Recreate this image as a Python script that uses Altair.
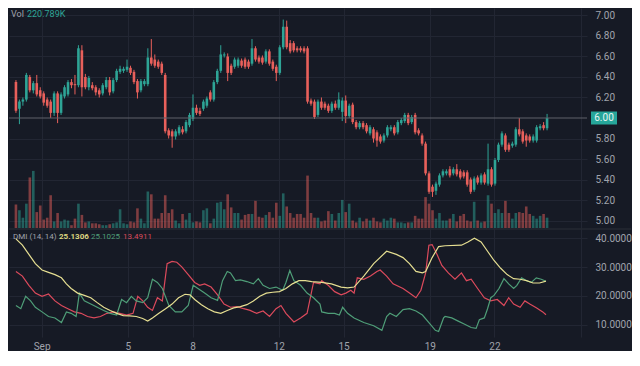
import altair as alt
import pandas as pd

# ---------------- data ----------------
OPEN = [6.35, 6.09, 6.16, 6.18, 6.40, 6.27, 6.34, 6.27, 6.24, 6.18,
        6.16, 6.05, 6.24, 6.05, 6.21, 6.23, 6.35, 6.33, 6.32, 6.66,
        6.40, 6.30, 6.32, 6.30, 6.27, 6.24, 6.30, 6.37, 6.26, 6.37,
        6.45, 6.46, 6.47, 6.49, 6.45, 6.36, 6.27, 6.33, 6.33, 6.59,
        6.57, 6.55, 6.53, 6.42, 5.88, 5.87, 5.82, 5.85, 5.89, 5.87,
        5.93, 5.99, 6.10, 6.07, 6.09, 6.12, 6.25, 6.18, 6.35, 6.46,
        6.61, 6.60, 6.51, 6.50, 6.51, 6.56, 6.57, 6.55, 6.53, 6.68,
        6.59, 6.59, 6.55, 6.65, 6.55, 6.50, 6.44, 6.69, 6.89, 6.73,
        6.73, 6.68, 6.68, 6.68, 6.68, 6.17, 6.16, 6.03, 6.16, 6.14,
        6.12, 6.07, 6.14, 6.10, 6.06, 6.17, 6.02, 6.13, 5.96, 5.91,
        5.95, 5.93, 5.85, 5.89, 5.86, 5.82, 5.78, 5.83, 5.89, 5.91,
        5.86, 5.95, 5.97, 6.03, 5.96, 6.03, 5.88, 5.83, 5.75, 5.46,
        5.33, 5.29, 5.35, 5.44, 5.46, 5.50, 5.46, 5.50, 5.48, 5.47,
        5.47, 5.40, 5.30, 5.42, 5.37, 5.45, 5.36, 5.50, 5.36, 5.59,
        5.74, 5.83, 5.74, 5.73, 5.74, 5.89, 5.87, 5.83, 5.82, 5.78,
        5.78, 5.90, 5.93, 5.90]
HIGH = [6.37, 6.18, 6.20, 6.44, 6.42, 6.36, 6.42, 6.30, 6.26, 6.20,
        6.18, 6.26, 6.26, 6.25, 6.32, 6.37, 6.38, 6.42, 6.71, 6.71,
        6.43, 6.41, 6.35, 6.32, 6.29, 6.34, 6.40, 6.40, 6.39, 6.48,
        6.51, 6.50, 6.57, 6.51, 6.47, 6.38, 6.38, 6.38, 6.68, 6.77,
        6.62, 6.57, 6.55, 6.44, 5.90, 5.89, 5.89, 5.93, 5.92, 5.98,
        6.05, 6.23, 6.13, 6.10, 6.18, 6.21, 6.27, 6.37, 6.48, 6.71,
        6.64, 6.63, 6.53, 6.59, 6.59, 6.58, 6.59, 6.57, 6.77, 6.70,
        6.61, 6.61, 6.67, 6.67, 6.57, 6.52, 6.71, 6.96, 6.95, 6.76,
        6.75, 6.70, 6.70, 6.70, 6.70, 6.19, 6.18, 6.18, 6.20, 6.16,
        6.14, 6.16, 6.17, 6.25, 6.20, 6.22, 6.14, 6.15, 5.98, 5.97,
        5.97, 5.95, 5.93, 5.91, 5.88, 5.84, 5.85, 5.93, 5.93, 5.93,
        5.98, 6.00, 6.05, 6.05, 6.03, 6.05, 5.90, 5.85, 5.77, 5.48,
        5.35, 5.38, 5.46, 5.50, 5.50, 5.53, 5.52, 5.55, 5.50, 5.49,
        5.49, 5.42, 5.43, 5.44, 5.46, 5.47, 5.75, 5.52, 5.61, 5.76,
        5.87, 5.85, 5.76, 5.77, 5.91, 6.00, 5.89, 5.85, 5.84, 5.84,
        5.93, 5.94, 5.96, 6.04]
LOW = [6.05, 5.94, 6.12, 6.16, 6.25, 6.24, 6.21, 6.19, 6.12, 6.10,
       6.00, 6.02, 5.95, 6.03, 6.19, 6.21, 6.29, 6.23, 6.30, 6.21,
       6.28, 6.27, 6.27, 6.22, 6.20, 6.22, 6.28, 6.22, 6.24, 6.35,
       6.43, 6.44, 6.45, 6.42, 6.33, 6.19, 6.25, 6.31, 6.31, 6.51,
       6.49, 6.48, 6.42, 5.85, 5.80, 5.71, 5.79, 5.83, 5.84, 5.85,
       5.91, 5.97, 6.03, 6.02, 6.07, 6.10, 6.16, 6.16, 6.33, 6.44,
       6.59, 6.36, 6.42, 6.48, 6.49, 6.49, 6.48, 6.48, 6.51, 6.55,
       6.53, 6.52, 6.53, 6.51, 6.46, 6.36, 6.42, 6.67, 6.67, 6.63,
       6.64, 6.64, 6.64, 6.63, 6.14, 6.12, 5.99, 6.01, 6.08, 6.08,
       6.05, 6.05, 6.08, 6.08, 5.97, 5.95, 6.00, 5.94, 5.89, 5.89,
       5.89, 5.85, 5.83, 5.76, 5.72, 5.75, 5.76, 5.81, 5.87, 5.83,
       5.84, 5.93, 5.95, 5.93, 5.94, 5.84, 5.83, 5.73, 5.44, 5.26,
       5.23, 5.25, 5.33, 5.42, 5.44, 5.42, 5.44, 5.43, 5.40, 5.41,
       5.33, 5.26, 5.28, 5.35, 5.35, 5.35, 5.34, 5.33, 5.34, 5.57,
       5.72, 5.67, 5.67, 5.71, 5.72, 5.82, 5.75, 5.72, 5.76, 5.76,
       5.76, 5.88, 5.88, 5.88]
CLOSE = [6.07, 6.16, 6.18, 6.42, 6.27, 6.34, 6.23, 6.21, 6.15, 6.12,
         6.05, 6.24, 6.05, 6.23, 6.30, 6.35, 6.32, 6.32, 6.68, 6.30,
         6.30, 6.39, 6.29, 6.25, 6.23, 6.32, 6.37, 6.25, 6.37, 6.46,
         6.48, 6.48, 6.50, 6.44, 6.35, 6.25, 6.36, 6.36, 6.59, 6.53,
         6.51, 6.50, 6.44, 5.87, 5.83, 5.82, 5.87, 5.91, 5.86, 5.96,
         6.03, 6.10, 6.05, 6.04, 6.16, 6.19, 6.18, 6.35, 6.46, 6.62,
         6.62, 6.44, 6.44, 6.57, 6.57, 6.51, 6.50, 6.50, 6.68, 6.57,
         6.55, 6.54, 6.65, 6.53, 6.48, 6.44, 6.69, 6.89, 6.69, 6.65,
         6.66, 6.66, 6.66, 6.65, 6.16, 6.14, 6.01, 6.16, 6.10, 6.10,
         6.07, 6.14, 6.10, 6.18, 6.17, 6.02, 6.12, 5.96, 5.91, 5.95,
         5.91, 5.87, 5.91, 5.80, 5.78, 5.77, 5.83, 5.91, 5.91, 5.85,
         5.96, 5.98, 6.03, 5.95, 6.01, 5.86, 5.85, 5.75, 5.46, 5.28,
         5.28, 5.36, 5.44, 5.48, 5.48, 5.44, 5.50, 5.45, 5.42, 5.43,
         5.35, 5.28, 5.41, 5.37, 5.44, 5.37, 5.50, 5.35, 5.59, 5.74,
         5.85, 5.69, 5.69, 5.75, 5.89, 5.84, 5.77, 5.78, 5.78, 5.82,
         5.91, 5.92, 5.90, 6.00]
VOLUME_K = [500, 380, 220, 520, 1080, 1220, 340, 480, 180, 220,
            700, 140, 320, 140, 180, 160, 60, 200, 520, 280,
            120, 140, 100, 100, 80, 60, 60, 80, 100, 120,
            400, 100, 80, 140, 120, 420, 200, 100, 780, 720,
            200, 200, 320, 700, 320, 400, 160, 100, 300, 180,
            320, 120, 140, 120, 380, 420, 100, 200, 540, 560,
            400, 720, 440, 320, 320, 180, 280, 300, 300, 580,
            240, 220, 280, 340, 220, 540, 260, 740, 460, 320,
            220, 300, 300, 220, 1120, 320,
            220, 220, 140, 160, 360, 300, 160, 320, 600, 340,
            520, 160, 120, 220, 140, 200, 160, 220, 140, 120,
            200, 160, 220, 200, 120, 120, 100, 120, 120, 260,
            200, 200, 660, 520, 380, 200, 320, 160, 160, 200,
            300, 140, 260, 300, 160, 140, 560, 160, 120,
            140, 700, 520, 320, 400, 320, 580, 320, 200, 320,
            340, 320, 460, 300, 260, 200, 260, 300, 220.789]

# time of first / last candle, in days (1 = Sep 1)
FIRST_T = -0.19
LAST_T = 24.44

ADX_T = [-0.19, 0.11, 0.41, 0.71, 1.02, 1.32, 1.62, 1.92, 2.15, 2.37,
         2.67, 2.98, 3.28, 3.58, 3.88, 4.18, 4.48, 4.79, 5.09, 5.39,
         5.69, 5.92, 6.14, 6.44, 6.75, 7.05, 7.35, 7.65, 7.88, 8.10,
         8.41, 8.71, 9.01, 9.31, 9.61, 9.91, 10.22, 10.52, 10.82, 11.12,
         11.42, 11.72, 12.03, 12.33, 12.63, 12.93, 13.23, 13.53,
         13.99, 14.44, 14.89, 15.19, 15.49, 15.94, 16.40, 17.00, 17.45, 17.76,
         18.06, 18.36, 18.66, 18.81, 19.11, 19.41, 19.71, 20.47, 20.77, 21.07,
         21.38, 21.68, 21.98, 22.29, 22.59, 22.89, 23.19, 23.49, 23.79, 24.09,
         24.39]
ADX_V = [39.8, 37.6, 34.4, 31.2, 29.0, 28.2, 27.4, 26.3, 24.2, 22.6,
         21.0, 20.2, 19.4, 17.7, 16.1, 15.0, 14.0, 13.2, 13.1, 12.9,
         12.2, 11.3, 12.4, 14.0, 15.6, 17.2, 19.4, 20.6, 20.4, 18.8,
         17.0, 15.6, 14.5, 14.0, 15.0, 15.9, 16.3, 17.0, 18.3, 19.9,
         21.0, 21.3, 21.5, 22.6, 24.2, 25.3, 25.3, 25.0,
         24.7, 24.2, 23.1, 22.8, 23.1, 26.9, 31.2, 35.5, 34.4, 33.3,
         31.2, 28.5, 28.0, 28.5, 33.3, 37.1, 37.4, 37.6, 38.7, 40.0,
         38.7, 35.5, 32.3, 29.6, 27.4, 26.0, 25.8, 25.3, 24.5, 24.5,
         25.1306]

PDI_T = [-0.19, 0.035, 0.26, 0.49, 0.71, 1.02, 1.32, 1.62, 1.92, 2.15,
         2.37, 2.60, 2.75, 2.98, 3.28, 3.58, 3.88, 4.18, 4.48, 4.71,
         4.94, 5.16, 5.39, 5.69, 5.92, 6.14, 6.37, 6.60, 6.90, 7.20,
         7.50, 7.80, 8.03, 8.25, 8.56, 8.86, 9.16, 9.39, 9.61, 9.76,
         9.99, 10.22, 10.52, 10.82, 11.05, 11.27, 11.57, 11.87, 12.18, 12.33,
         12.51, 12.70, 13.01, 13.31, 13.61, 13.91,
         13.99, 14.29, 14.59, 14.81, 14.96, 15.19, 15.49, 15.94, 16.40, 16.78,
         17.00, 17.15, 17.45, 17.76, 18.06, 18.36, 18.66, 18.96, 19.26, 19.41,
         19.64, 19.71, 20.02, 20.32, 20.62, 20.92, 21.15, 21.30, 21.53, 21.68,
         21.83, 21.98, 22.21, 22.44, 22.66, 22.89, 23.04, 23.26, 23.49, 23.71,
         23.94, 24.17, 24.39]
PDI_V = [16.7, 15.6, 19.9, 18.3, 16.1, 14.5, 12.9, 12.4, 10.8, 14.5,
         14.0, 12.9, 21.0, 18.3, 17.2, 16.1, 15.0, 14.0, 13.4, 18.8,
         17.7, 19.9, 18.3, 17.7, 19.4, 25.8, 24.7, 22.6, 16.7, 14.5,
         14.5, 16.7, 23.7, 22.6, 21.0, 19.4, 18.5, 25.3, 28.5, 28.0,
         25.3, 25.6, 25.0, 24.2, 26.0, 23.7, 22.6, 23.1, 22.0, 24.7,
         28.8, 25.3, 23.7, 21.0, 19.4, 17.2,
         14.5, 14.0, 14.0, 13.4, 16.1, 14.0, 12.4, 10.8, 9.7, 8.1,
         12.9, 14.0, 12.9, 15.3, 15.6, 14.8, 13.4, 10.8, 8.1, 7.7,
         12.4, 12.9, 12.4, 11.3, 10.2, 9.1, 8.8, 11.8, 12.4, 15.6,
         19.4, 20.2, 22.6, 26.0, 24.2, 22.6, 23.7, 26.3, 25.3, 24.7,
         26.3, 25.8, 25.1025]

MDI_T = [-0.19, 0.11, 0.41, 0.71, 1.02, 1.32, 1.62, 1.92, 2.22, 2.52,
         2.83, 3.13, 3.43, 3.73, 4.03, 4.33, 4.63, 4.94, 5.24, 5.46,
         5.69, 5.92, 6.14, 6.37, 6.60, 6.82, 7.05, 7.27, 7.50, 7.80,
         8.10, 8.33, 8.56, 8.86, 9.16, 9.46, 9.76, 10.06, 10.37, 10.67,
         10.97, 11.27, 11.57, 11.87, 12.10, 12.33, 12.70, 13.01, 13.31, 13.61,
         13.91,
         13.99, 14.29, 14.59, 14.89, 15.11, 15.34, 15.49, 15.64, 15.94, 16.25,
         16.55, 16.70, 17.00, 17.30, 17.76, 18.06, 18.36, 18.59, 18.81, 18.96,
         19.11, 19.34, 19.56, 19.86, 20.17, 20.47, 20.70, 20.92, 21.22, 21.53,
         21.83, 22.13, 22.44, 22.66, 22.89, 23.19, 23.41, 23.64, 23.94, 24.24,
         24.39]
MDI_V = [28.5, 26.9, 23.7, 21.0, 19.9, 20.7, 18.3, 16.7, 15.6, 14.5,
         14.0, 12.9, 12.4, 12.9, 14.0, 14.5, 14.0, 13.4, 14.0, 19.9,
         18.3, 16.1, 15.0, 19.4, 18.3, 31.2, 32.0, 31.7, 30.1, 27.4,
         24.7, 23.7, 24.2, 23.1, 20.4, 17.2, 16.1, 16.3, 15.6, 15.0,
         14.0, 14.8, 12.9, 15.6, 16.7, 14.0, 11.0, 12.4, 14.0, 24.7,
         24.2,
         25.3, 23.7, 21.5, 20.4, 21.0, 22.0, 21.0, 26.3, 25.8, 26.9,
         28.5, 29.0, 26.9, 24.2, 22.6, 21.0, 19.4, 22.0, 28.0, 37.6,
         37.8, 34.4, 30.6, 28.0, 25.8, 28.0, 25.3, 25.8, 22.6, 19.4,
         18.3, 18.8, 16.7, 19.4, 17.2, 16.1, 18.3, 17.2, 15.9, 14.5,
         13.4911]

X_TICKS = [1, 5, 8, 12, 15, 19, 22, 26]
PRICE_TICKS = [5.0, 5.2, 5.4, 5.6, 5.8, 6.2, 6.4, 6.6, 6.8, 7.0]
DMI_TICKS = [10, 20, 30, 40]
LAST_PRICE = 6.00

# ---------------- styling ----------------
BG = "#161a25"
GRID = "#222633"
LABEL = "#a0a3ac"
UP = "#2ea496"
DOWN = "#e8605b"
ADX_C = "#e6df92"
PDI_C = "#4f9e78"
MDI_C = "#dc4a5c"
FONT = "Roboto"

W = 578
H_MAIN = 220
H_DMI = 108

n = len(OPEN)
step = (LAST_T - FIRST_T) / (n - 1)
candles = pd.DataFrame({
    "t": [FIRST_T + i * step for i in range(n)],
    "open": OPEN, "high": HIGH, "low": LOW, "close": CLOSE, "vol": VOLUME_K,
})
candles["dir"] = ["up" if c >= o else "down" for o, c in zip(OPEN, CLOSE)]

xscale = alt.Scale(domain=[-0.28, 26.06], nice=False, zero=False)
color = alt.Color("dir:N", scale=alt.Scale(domain=["up", "down"], range=[UP, DOWN]), legend=None)

x_main = alt.X("t:Q", scale=xscale, title=None,
               axis=alt.Axis(values=X_TICKS, labels=False, ticks=False, domain=False,
                             grid=True, gridColor=GRID, gridWidth=1))

pscale = alt.Scale(domain=[4.927, 7.073], nice=False, zero=False)
paxis = alt.Axis(orient="right", values=PRICE_TICKS, format=".2f", grid=True, gridColor=GRID,
                 domain=False, ticks=False, labelColor=LABEL, labelFontSize=10, labelPadding=8,
                 labelFont=FONT, title=None)

base = alt.Chart(candles)

volume = base.mark_bar(size=2.6, opacity=0.5).encode(
    x=x_main,
    y=alt.Y("vol:Q", scale=alt.Scale(domain=[0, 4700], nice=False), axis=None),
    color=color,
)

wicks = base.mark_rule(strokeWidth=1).encode(
    x=x_main,
    y=alt.Y("low:Q", scale=pscale, axis=paxis),
    y2="high:Q",
    color=color,
)
bodies = base.mark_bar(size=2.6).encode(
    x=x_main,
    y=alt.Y("open:Q", scale=pscale, axis=paxis),
    y2="close:Q",
    color=color,
)

one = pd.DataFrame({"k": [0]})
price_line = alt.Chart(one).mark_rule(color="#5e616b", strokeWidth=1).encode(
    y=alt.YDatum(LAST_PRICE, scale=pscale, axis=paxis)
)
badge = alt.Chart(one).mark_point(shape="M-2,-1H2V1H-2Z", size=169, filled=True,
                                  color="#26a69a", opacity=1).encode(
    x=alt.value(W + 17), y=alt.YDatum(LAST_PRICE, scale=pscale, axis=paxis)
)
badge_text = alt.Chart(one).mark_text(text="6.00", color="#e8f5f3", fontSize=10, font=FONT).encode(
    x=alt.value(W + 17), y=alt.YDatum(LAST_PRICE, scale=pscale, axis=paxis)
)
vol_lbl = alt.Chart(one).mark_text(text="Vol", color=LABEL, fontSize=9, font=FONT,
                                   align="left", baseline="middle").encode(
    x=alt.value(2), y=alt.value(6))
vol_val = alt.Chart(one).mark_text(text="220.789K", color="#2ea496", fontSize=9, font=FONT,
                                   align="left", baseline="middle").encode(
    x=alt.value(18), y=alt.value(6))

price = alt.layer(wicks, bodies, price_line, badge, badge_text, vol_lbl, vol_val)
main = alt.layer(volume, price).resolve_scale(y="independent").properties(width=W, height=H_MAIN)

# ---------------- DMI panel ----------------
dscale = alt.Scale(domain=[5.8, 43.2], nice=False, zero=False)
daxis = alt.Axis(orient="right", values=DMI_TICKS, format=".4f", grid=True, gridColor=GRID,
                 domain=False, ticks=False, labelColor=LABEL, labelFontSize=10, labelPadding=8,
                 labelFont=FONT, title=None)
x_dmi = alt.X("t:Q", scale=xscale, title=None,
              axis=alt.Axis(values=X_TICKS, grid=True, gridColor=GRID, domain=False, ticks=False,
                            labelColor=LABEL, labelFontSize=10, labelFont=FONT, labelPadding=4,
                            labelExpr="datum.value == 1 ? 'Sep' : (datum.value == 26 ? '' : '' + datum.value)"))


def dmi_line(ts, vs, c):
    return alt.Chart(pd.DataFrame({"t": ts, "v": vs})).mark_line(color=c, strokeWidth=1.2).encode(
        x=x_dmi, y=alt.Y("v:Q", scale=dscale, axis=daxis))


sep = alt.Chart(one).mark_rule(color="#2a2e39", strokeWidth=1).encode(
    x=alt.value(0), x2=alt.value(W + 44), y=alt.value(0))


def legend_text(txt, xpos, c, weight="normal"):
    return alt.Chart(one).mark_text(text=txt, color=c, fontSize=8, font=FONT, fontWeight=weight,
                                    align="left", baseline="middle").encode(
        x=alt.value(xpos), y=alt.value(8))


dmi = alt.layer(
    dmi_line(MDI_T, MDI_V, MDI_C),
    dmi_line(PDI_T, PDI_V, PDI_C),
    dmi_line(ADX_T, ADX_V, ADX_C),
    sep,
    legend_text("DMI (14, 14)", 4, LABEL),
    legend_text("25.1306", 50, "#dcd580", "bold"),
    legend_text("25.1025", 82, PDI_C),
    legend_text("13.4911", 114, MDI_C),
).properties(width=W, height=H_DMI)

chart = alt.vconcat(main, dmi, spacing=0).resolve_scale(
    y="independent", x="shared", color="shared"
).resolve_axis(x="independent", y="independent").configure(
    background=BG, padding=0, font=FONT
).configure_view(stroke=None)

chart.save("out.html", embed_options={"renderer": "svg", "actions": False})
